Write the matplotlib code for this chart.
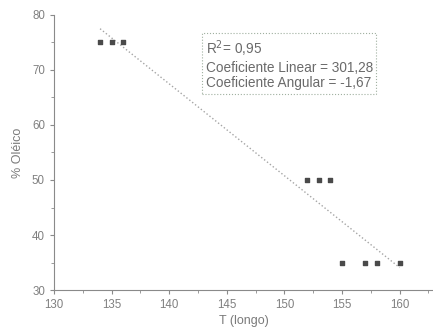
import numpy as np
import matplotlib
matplotlib.use('Agg')
import matplotlib.pyplot as plt
from matplotlib.ticker import MultipleLocator

plt.rcParams['font.family'] = ['Liberation Sans', 'DejaVu Sans']

# dados
temperatura = [134, 135, 136, 152, 153, 154, 155, 157, 158, 160]
oleico = [75, 75, 75, 50, 50, 50, 35, 35, 35, 35]
coef_linear = 301.28
coef_angular = -1.67
r2 = 0.95

fig = plt.figure(figsize=(4.33, 3.29), dpi=100)
ax = fig.add_axes([0.1247, 0.1185, 0.8753, 0.836])

# reta ajustada
xs = np.array([min(temperatura), max(temperatura)])
ax.plot(xs, coef_linear + coef_angular * xs, linestyle=':', color='#a5a5a5', linewidth=1.0)

ax.scatter(temperatura, oleico, marker='s', s=10, color='#4a4a4a', zorder=3)

ax.set_xlim(130, 162.9)
ax.set_ylim(30, 80)
ax.xaxis.set_major_locator(MultipleLocator(5))
ax.xaxis.set_minor_locator(MultipleLocator(2.5))
ax.yaxis.set_major_locator(MultipleLocator(10))
ax.yaxis.set_minor_locator(MultipleLocator(5))

for s in ['top', 'right']:
    ax.spines[s].set_visible(False)
for s in ['left', 'bottom']:
    ax.spines[s].set_color('#8a8a8a')
    ax.spines[s].set_linewidth(0.8)
ax.tick_params(which='both', direction='out', colors='#8a8a8a', labelcolor='#808080', labelsize=8.3)
ax.tick_params(which='major', length=3)
ax.tick_params(which='minor', length=2)

ax.set_xlabel('T (longo)', color='#7a7a7a', fontsize=9, labelpad=3)
ax.set_ylabel('% Oléico', color='#7a7a7a', fontsize=9, labelpad=6)

texto = 'R$^2$= %s\nCoeficiente Linear = %s\nCoeficiente Angular = %s' % (
    str(r2).replace('.', ','), str(coef_linear).replace('.', ','), str(coef_angular).replace('.', ','))
ax.text(0.40, 0.915, texto, transform=ax.transAxes, va='top', ha='left', fontsize=9.8,
        color='#6a6a6a', linespacing=1.15,
        bbox=dict(boxstyle='square,pad=0.25', facecolor='white', edgecolor='#a0b0a0',
                  linestyle=':', linewidth=0.8))

fig.savefig('out.png', dpi=100)
